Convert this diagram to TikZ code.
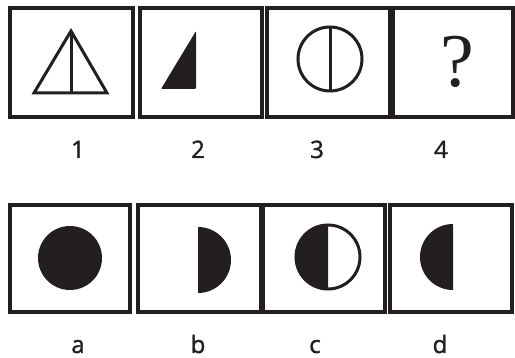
\documentclass[tikz,border=0pt]{standalone}
\usepackage{fontspec}
\setmainfont{Open Sans}
\newfontfamily\lblfont[FakeBold=1.5]{Open Sans}
\newfontfamily\qfont{Liberation Serif}
\definecolor{ink}{HTML}{231F20}
\begin{document}
\begin{tikzpicture}[x=1pt,y=-1pt,
  frame/.style={draw=ink,line width=3.5pt,inner sep=0pt,outer sep=0pt},
  shapeline/.style={draw=ink,line width=3pt},
  lbl/.style={anchor=base,inner sep=0pt,font=\lblfont\fontsize{24}{24}\selectfont,text=ink}]
\useasboundingbox (0,0) rectangle (515,358);
% top row frames
\node[frame,minimum width=123pt,minimum height=109pt] (f1) at (71.5,62.5) {};
\node[frame,minimum width=122pt,minimum height=109pt] (f2) at (201,62.5) {};
\node[frame,minimum width=123pt,minimum height=109pt] (f3) at (328.5,62.5) {};
\node[frame,minimum width=120pt,minimum height=109pt] (f4) at (453,62.5) {};
% bottom row frames
\node[frame,minimum width=120pt,minimum height=107pt] (fa) at (70,258.5) {};
\node[frame,minimum width=123pt,minimum height=107pt] (fb) at (199.5,258.5) {};
\node[frame,minimum width=122pt,minimum height=107pt] (fc) at (324,258.5) {};
\node[frame,minimum width=122pt,minimum height=107pt] (fd) at (451,258.5) {};
% 1: triangle with median
\draw[shapeline,line join=miter] (71,31) -- (107,93) -- (34,93) -- cycle;
\draw[shapeline] (71,31) -- (71,93);
% 2: filled right triangle
\fill[ink,rounded corners=1pt] (196,31) -- (196,89) -- (161,89) -- cycle;
% 3: circle with vertical diameter
\draw[shapeline] (330,59) circle[radius=32];
\draw[shapeline] (330,27) -- (330,91);
% 4: question mark
\node[inner sep=0pt,text=ink,font=\qfont\fontsize{76}{76}\selectfont] (q) at (457,62) {?};
% a: filled disk
\fill[ink] (70,258) circle[radius=32];
% b: right half disk
\fill[ink] (198,227) arc[start angle=-90,end angle=90,radius=33] -- cycle;
% c: circle, left half filled
\fill[ink] (328,289) arc[start angle=90,end angle=270,radius=32] -- cycle;
\draw[shapeline] (328,257) circle[radius=32];
% d: left half disk
\fill[ink] (453,224) arc[start angle=-90,end angle=-270,radius=33] -- cycle;
% labels
\node[lbl] (l1) at (78,158) {1};
\node[lbl] (l2) at (198,158) {2};
\node[lbl] (l3) at (317,158) {3};
\node[lbl] (l4) at (441,158) {4};
\node[lbl] (la) at (78,353) {a};
\node[lbl] (lb) at (198,353) {b};
\node[lbl] (lc) at (315,353) {c};
\node[lbl] (ld) at (440,353) {d};
\end{tikzpicture}
\end{document}
